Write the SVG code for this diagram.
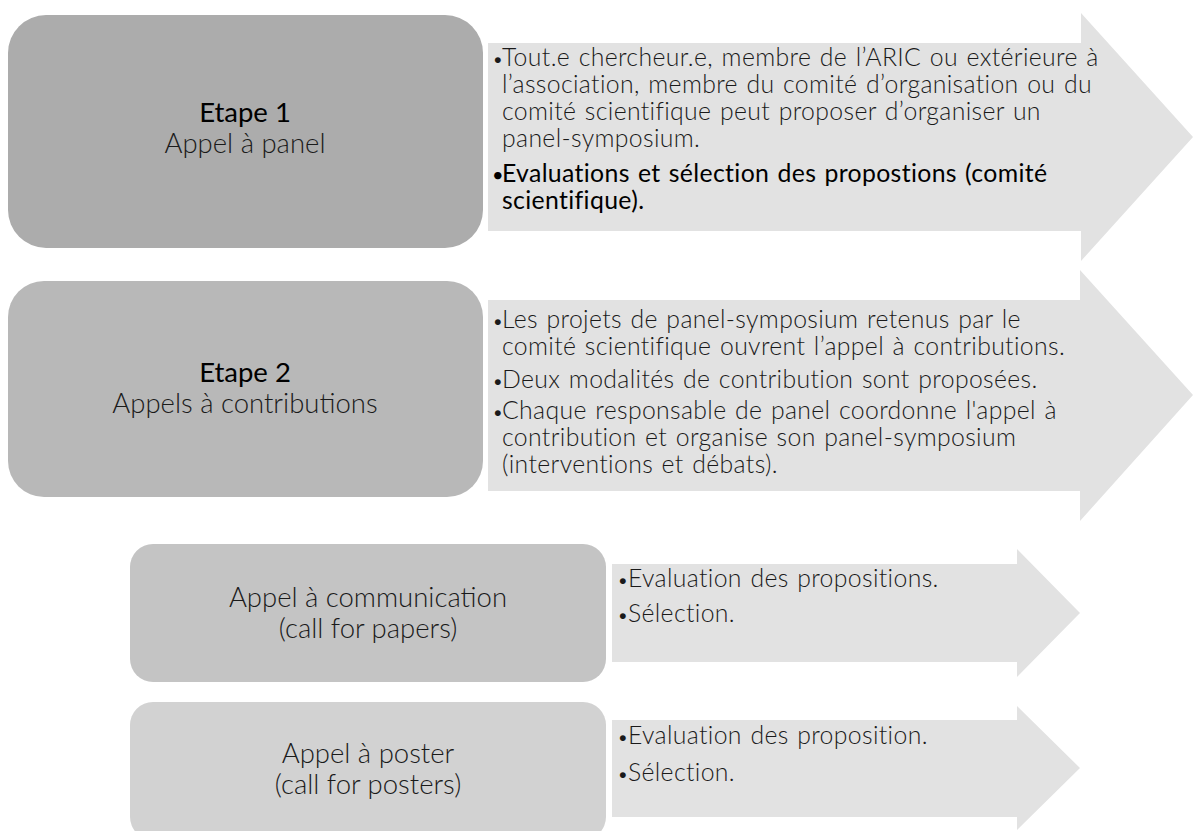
<svg xmlns="http://www.w3.org/2000/svg" width="1193" height="831" viewBox="0 0 1193 831">
<style>
.arrow{fill:#e2e2e2}
.lbl{font-family:Lato,"Open Sans","Liberation Sans",sans-serif;font-weight:300;font-size:27.5px;fill:#1a1a1a;text-anchor:middle}
.lblb{font-weight:400;fill:#000}
.txt{font-family:Lato,"Open Sans","Liberation Sans",sans-serif;font-weight:300;font-size:24.8px;letter-spacing:0.35px;word-spacing:1.5px;fill:#1a1a1a}
.txtb{font-weight:400;fill:#000}
.bul{font-size:20px}
</style>
<rect x="0" y="0" width="1193" height="831" fill="#ffffff"/>
<g id="connectors">
<polygon class="arrow" points="488,43 1081,43 1081,13 1193,137 1081,261 1081,231 488,231"/>
<polygon class="arrow" points="488,300 1080,300 1080,270 1193,395 1080,521 1080,491 488,491"/>
<polygon class="arrow" points="612,564 1017,564 1017,549 1080,613 1017,677 1017,662 612,662"/>
<polygon class="arrow" points="612,720 1017,720 1017,706 1080,768 1017,830 1017,817 612,817"/>
</g>
<g id="etape1">
<rect x="8" y="15" width="475" height="233" rx="38" fill="#acacac"/>
<text class="lbl" x="245" y="122"><tspan class="lblb">Etape 1</tspan><tspan x="245" y="153">Appel à panel</tspan></text>
</g>
<g id="etape1-text">
<text class="txt" x="492" y="66"><tspan class="bul">•</tspan><tspan x="502">Tout.e chercheur.e, membre de l’ARIC ou extérieure à</tspan><tspan x="502" y="93">l’association, membre du comité d’organisation ou du</tspan><tspan x="502" y="120">comité scientifique peut proposer d’organiser un</tspan><tspan x="502" y="147">panel-symposium.</tspan></text>
<text class="txt txtb" x="492" y="182"><tspan class="bul">•</tspan><tspan x="502">Evaluations et sélection des propostions (comité</tspan><tspan x="502" y="209">scientifique).</tspan></text>
</g>
<g id="etape2">
<rect x="8" y="281" width="475" height="216" rx="36" fill="#b8b8b8"/>
<text class="lbl" x="245" y="382"><tspan class="lblb">Etape 2</tspan><tspan x="245" y="413">Appels à contributions</tspan></text>
</g>
<g id="etape2-text">
<text class="txt" x="492" y="328"><tspan class="bul">•</tspan><tspan x="502">Les projets de panel-symposium retenus par le</tspan><tspan x="502" y="355">comité scientifique ouvrent l’appel à contributions.</tspan></text>
<text class="txt" x="492" y="388"><tspan class="bul">•</tspan><tspan x="502">Deux modalités de contribution sont proposées.</tspan></text>
<text class="txt" x="492" y="419"><tspan class="bul">•</tspan><tspan x="502">Chaque responsable de panel coordonne l'appel à</tspan><tspan x="502" y="446">contribution et organise son panel-symposium</tspan><tspan x="502" y="473">(interventions et débats).</tspan></text>
</g>
<g id="communication">
<rect x="130" y="544" width="476" height="138" rx="23" fill="#c4c4c4"/>
<text class="lbl" x="368" y="607">Appel à communication<tspan x="368" y="638">(call for papers)</tspan></text>
</g>
<g id="communication-text">
<text class="txt" x="617" y="587"><tspan class="bul">•</tspan><tspan x="628">Evaluation des propositions.</tspan></text>
<text class="txt" x="617" y="622"><tspan class="bul">•</tspan><tspan x="628">Sélection.</tspan></text>
</g>
<g id="poster">
<rect x="130" y="702" width="476" height="138" rx="23" fill="#d2d2d2"/>
<text class="lbl" x="368" y="763">Appel à poster<tspan x="368" y="794">(call for posters)</tspan></text>
</g>
<g id="poster-text">
<text class="txt" x="617" y="744"><tspan class="bul">•</tspan><tspan x="628">Evaluation des proposition.</tspan></text>
<text class="txt" x="617" y="781"><tspan class="bul">•</tspan><tspan x="628">Sélection.</tspan></text>
</g>
</svg>
